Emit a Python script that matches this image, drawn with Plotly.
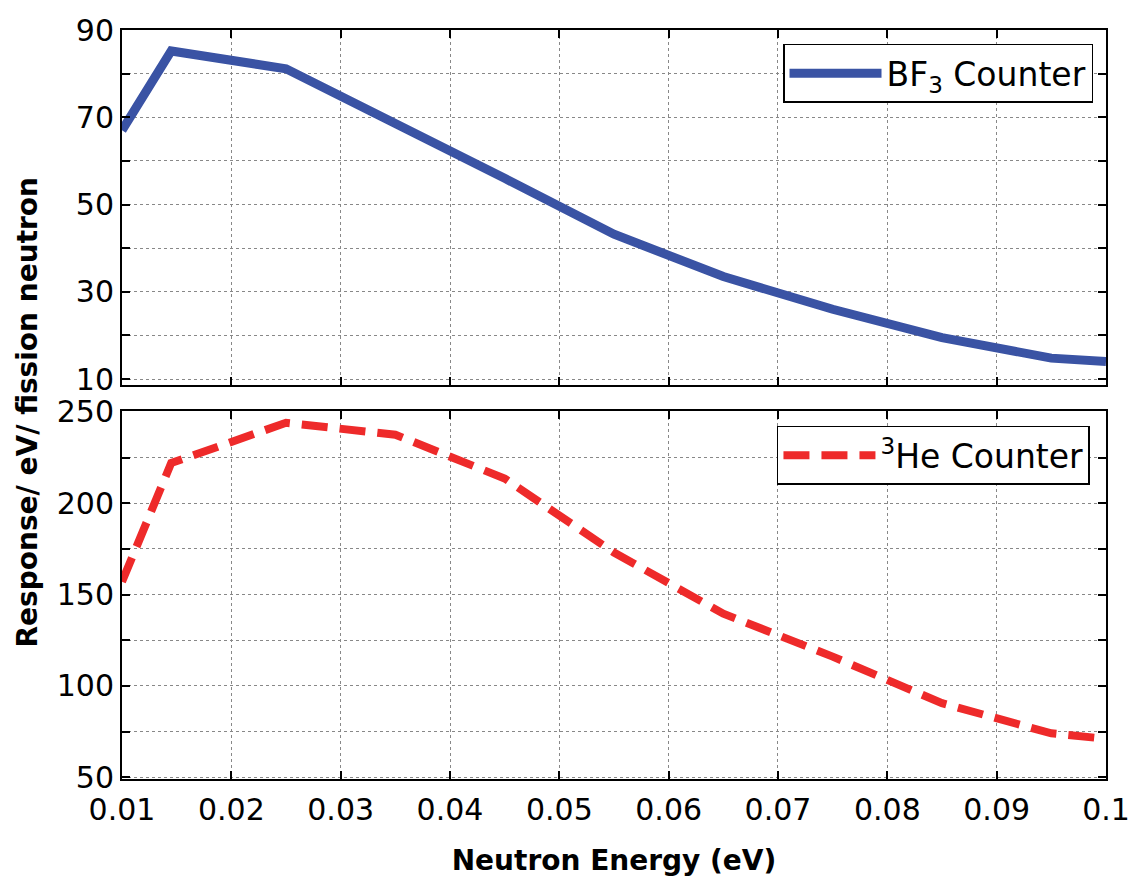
import plotly.graph_objects as go
from plotly.subplots import make_subplots

# Data
energy_ev = [0.01, 0.0145, 0.025, 0.035, 0.045, 0.055, 0.065, 0.075, 0.085, 0.095, 0.1]
bf3_response = [67.0, 85.2, 81.1, 68.8, 56.0, 43.2, 33.5, 26.0, 19.5, 14.8, 14.0]
he3_response = [157.0, 222.0, 244.0, 237.5, 213.5, 173.0, 139.5, 116.0, 90.5, 74.0, 71.0]

x_ticks = [0.01, 0.02, 0.03, 0.04, 0.05, 0.06, 0.07, 0.08, 0.09, 0.1]
x_ticklabels = ["0.01", "0.02", "0.03", "0.04", "0.05", "0.06", "0.07", "0.08", "0.09", "0.1"]

BLUE = "#3A53A4"
RED = "#EE2A2A"
FONT = "DejaVu Sans"

fig = make_subplots(rows=2, cols=1, shared_xaxes=True, vertical_spacing=0.0)

fig.add_trace(go.Scatter(x=energy_ev, y=bf3_response, mode="lines",
                         name="BF<sub>3</sub> Counter",
                         line=dict(color=BLUE, width=9), legend="legend"), row=1, col=1)
fig.add_trace(go.Scatter(x=energy_ev, y=he3_response, mode="lines",
                         name="<sup>3</sup>He Counter",
                         line=dict(color=RED, width=8, dash="26px,12px"), legend="legend2"), row=2, col=1)

axis_common = dict(showline=True, linecolor="black", linewidth=2, mirror="ticks",
                   ticks="inside", ticklen=8, tickwidth=1.5, tickcolor="black",
                   showgrid=True, gridcolor="#888888", griddash="dot", gridwidth=1,
                   zeroline=False, tickfont=dict(family=FONT, size=30, color="black"))

fig.update_xaxes(range=[0.01, 0.100001], tickvals=x_ticks, ticktext=x_ticklabels,
                 ticklabeloverflow="allow", automargin=False, **axis_common)
fig.update_xaxes(showticklabels=False, row=1, col=1)
fig.update_xaxes(title=dict(text="<b>Neutron Energy (eV)</b>",
                            font=dict(family=FONT, size=28, color="black"), standoff=24),
                 ticklabelstandoff=3, row=2, col=1)

fig.update_yaxes(range=[8.6, 90], tick0=10, dtick=20,
                 minor=dict(dtick=10, tick0=10, showgrid=True, gridcolor="#888888", griddash="dot",
                            ticks="inside", ticklen=8, tickcolor="black"),
                 **axis_common, row=1, col=1)
fig.update_yaxes(range=[49, 250.5], tick0=50, dtick=50,
                 minor=dict(dtick=25, tick0=50, showgrid=True, gridcolor="#888888", griddash="dot",
                            ticks="inside", ticklen=8, tickcolor="black"),
                 **axis_common, row=2, col=1)

fig.update_layout(
    yaxis=dict(domain=[0.5258, 1.0]),
    yaxis2=dict(domain=[0.0, 0.4914]),
)

legend_common = dict(bgcolor="white", bordercolor="black", borderwidth=1.5,
                     font=dict(family=FONT, size=33, color="black"),
                     itemwidth=92, xanchor="right", yanchor="top")
fig.update_layout(
    legend=dict(x=0.9868, y=0.9815, **legend_common),
    legend2=dict(x=0.9837, y=0.4715, **legend_common),
    width=1129, height=878,
    margin=dict(l=122, r=23, t=24, b=99),
    plot_bgcolor="white", paper_bgcolor="white",
    showlegend=True,
)

fig.add_annotation(text="<b>Response/ eV/ fission neutron</b>", textangle=-90,
                   xref="paper", yref="paper", x=-0.096, y=0.49,
                   xanchor="center", yanchor="middle", showarrow=False,
                   font=dict(family=FONT, size=28, color="black"))

fig.write_html("out.html")
